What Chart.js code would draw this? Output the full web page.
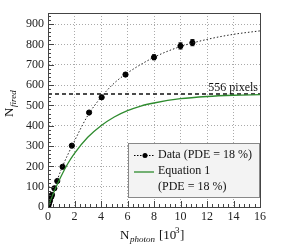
<!DOCTYPE html>
<html>
<head>
<meta charset="utf-8">
<script src="https://cdn.jsdelivr.net/npm/chart.js@4/dist/chart.umd.min.js"></script>
<style>
  html, body { margin: 0; padding: 0; background: #fff; }
  #wrap { width: 283px; height: 247px; }
</style>
</head>
<body>
<div id="wrap"><canvas id="c" width="283" height="247"></canvas></div>
<script>
// measured points (N_photon in 10^3, N_fired)
const dataX = [0.02, 0.05, 0.1, 0.15, 0.25, 0.3, 0.48, 0.7, 1.1, 1.8, 3.1, 4.05, 5.85, 8.0, 10.0, 10.9];
const dataY = [5, 12, 22, 32, 50, 60, 92, 128, 198, 302, 465, 540, 652, 737, 793, 809];
const dataErr = [0, 0, 0, 0, 0, 0, 0, 0, 0, 0, 0, 0, 8, 12, 15, 15];

// dotted fit through the data
const fitX = [0, 0.5, 1, 2, 3, 4, 5, 6, 8, 10, 12, 14, 16];
const fitY = [0, 95, 185, 325, 450, 540, 610, 660, 737, 790, 825, 850, 867];

// green curve, equation 1
const eqX = [0, 0.5, 1, 1.5, 2, 3, 4, 5, 6, 7, 8, 10, 12, 14, 16];
const eqY = [0, 83, 153, 214, 264, 343, 400, 443, 474, 497, 512, 533, 544, 550, 553];

const pixelLimit = 556;
const xTicks = [0, 2, 4, 6, 8, 10, 12, 14, 16];

const pts = (xs, ys) => xs.map((x, i) => ({ x: x, y: ys[i] }));
const serif = '"Liberation Serif", "DejaVu Serif", serif';

const extras = {
  id: 'extras',
  afterDatasetsDraw(chart) {
    const { ctx, chartArea: a, scales: { x, y } } = chart;
    ctx.save();

    // error bars
    ctx.strokeStyle = '#000';
    ctx.lineWidth = 1;
    dataX.forEach((v, i) => {
      if (!dataErr[i]) return;
      const px = x.getPixelForValue(v);
      const y1 = y.getPixelForValue(dataY[i] - dataErr[i]);
      const y2 = y.getPixelForValue(dataY[i] + dataErr[i]);
      ctx.beginPath();
      ctx.moveTo(px, y1); ctx.lineTo(px, y2);
      ctx.moveTo(px - 2, y1); ctx.lineTo(px + 2, y1);
      ctx.moveTo(px - 2, y2); ctx.lineTo(px + 2, y2);
      ctx.stroke();
    });

    // frame + inward ticks
    ctx.strokeStyle = '#444';
    ctx.lineWidth = 1;
    ctx.strokeRect(a.left + 0.5, a.top + 0.5, a.right - a.left, a.bottom - a.top);
    ctx.beginPath();
    for (let v = 0; v <= 16.001; v += 0.4) {
      const px = Math.round(x.getPixelForValue(v)) + 0.5;
      const major = Math.abs(v / 2 - Math.round(v / 2)) < 0.01;
      ctx.moveTo(px, a.bottom); ctx.lineTo(px, a.bottom - (major ? 6 : 3));
    }
    for (let v = 0; v <= 940; v += 20) {
      const py = Math.round(y.getPixelForValue(v)) + 0.5;
      const major = v % 100 === 0;
      ctx.moveTo(a.left, py); ctx.lineTo(a.left + (major ? 6 : 3), py);
    }
    ctx.stroke();

    // label of the pixel limit
    ctx.fillStyle = '#111';
    ctx.font = '12px ' + serif;
    ctx.textAlign = 'right';
    ctx.textBaseline = 'alphabetic';
    ctx.fillText('556 pixels', a.right - 2, y.getPixelForValue(pixelLimit) - 3);

    // legend box
    const bx = 128, by = 143, bw = 131, bh = 54;
    ctx.fillStyle = '#f3f3f3';
    ctx.fillRect(bx, by, bw, bh);
    ctx.strokeStyle = '#888';
    ctx.strokeRect(bx + 0.5, by + 0.5, bw, bh);

    ctx.strokeStyle = '#000';
    ctx.setLineDash([1.5, 1.5]);
    ctx.beginPath(); ctx.moveTo(134, 155.5); ctx.lineTo(154, 155.5); ctx.stroke();
    ctx.setLineDash([]);
    ctx.fillStyle = '#000';
    ctx.beginPath(); ctx.arc(145, 155.5, 2.5, 0, Math.PI * 2); ctx.fill();
    ctx.strokeStyle = '#2e8b2e';
    ctx.lineWidth = 1.3;
    ctx.beginPath(); ctx.moveTo(134, 172); ctx.lineTo(154, 172); ctx.stroke();

    ctx.fillStyle = '#111';
    ctx.textAlign = 'left';
    ctx.textBaseline = 'middle';
    ctx.font = '12px ' + serif;
    ctx.fillText('Data (PDE = 18 %)', 158, 155);
    ctx.fillText('Equation 1', 158, 171);
    ctx.fillText('(PDE = 18 %)', 158, 187);

    // axis titles with subscripts
    ctx.textBaseline = 'alphabetic';
    ctx.font = '13px ' + serif;
    ctx.fillText('N', 120, 239);
    ctx.font = 'italic 9px ' + serif;
    ctx.fillText('photon', 130, 242);
    ctx.font = '13px ' + serif;
    ctx.fillText('[10', 159, 239);
    ctx.font = '9px ' + serif;
    ctx.fillText('3', 175, 233);
    ctx.font = '13px ' + serif;
    ctx.fillText(']', 180, 239);

    ctx.translate(13, 117);
    ctx.rotate(-Math.PI / 2);
    ctx.font = '13px ' + serif;
    ctx.fillText('N', 0, 0);
    ctx.font = 'italic 9px ' + serif;
    ctx.fillText('fired', 10, 3);

    ctx.restore();
  }
};

new Chart(document.getElementById('c'), {
  type: 'scatter',
  data: {
    datasets: [
      {
        label: 'fit',
        data: pts(fitX, fitY),
        showLine: true,
        borderColor: '#222',
        borderWidth: 1,
        borderDash: [1.5, 2],
        pointRadius: 0,
        cubicInterpolationMode: 'monotone'
      },
      {
        label: 'Equation 1',
        data: pts(eqX, eqY),
        showLine: true,
        borderColor: '#2e8b2e',
        borderWidth: 1.3,
        pointRadius: 0,
        cubicInterpolationMode: 'monotone'
      },
      {
        label: 'limit',
        data: [{ x: 0, y: pixelLimit }, { x: 16, y: pixelLimit }],
        showLine: true,
        borderColor: '#111',
        borderWidth: 1.4,
        borderDash: [4, 3],
        pointRadius: 0
      },
      {
        label: 'Data (PDE = 18 %)',
        data: pts(dataX, dataY),
        showLine: false,
        backgroundColor: '#000',
        borderColor: '#000',
        pointRadius: 2.6
      }
    ]
  },
  options: {
    responsive: false,
    animation: false,
    layout: { padding: { top: 13, right: 23, left: 0, bottom: 0 } },
    plugins: { legend: { display: false }, tooltip: { enabled: false } },
    scales: {
      x: {
        type: 'linear',
        min: 0,
        max: 16,
        afterFit: s => { s.height = 40; },
        afterBuildTicks: s => { s.ticks = xTicks.map(v => ({ value: v })); },
        ticks: { color: '#222', font: { family: serif, size: 12 }, padding: 3, maxRotation: 0 },
        grid: { color: '#aaa', drawTicks: false, lineWidth: 1 },
        border: { display: true, color: '#444', dash: [1, 2] }
      },
      y: {
        min: 0,
        max: 955,
        afterFit: s => { s.width = 48; },
        ticks: { stepSize: 100, includeBounds: false, color: '#222', font: { family: serif, size: 12 }, padding: 4 },
        grid: { color: '#aaa', drawTicks: false, lineWidth: 1 },
        border: { display: true, color: '#444', dash: [1, 2] }
      }
    }
  },
  plugins: [extras]
});
</script>
</body>
</html>
